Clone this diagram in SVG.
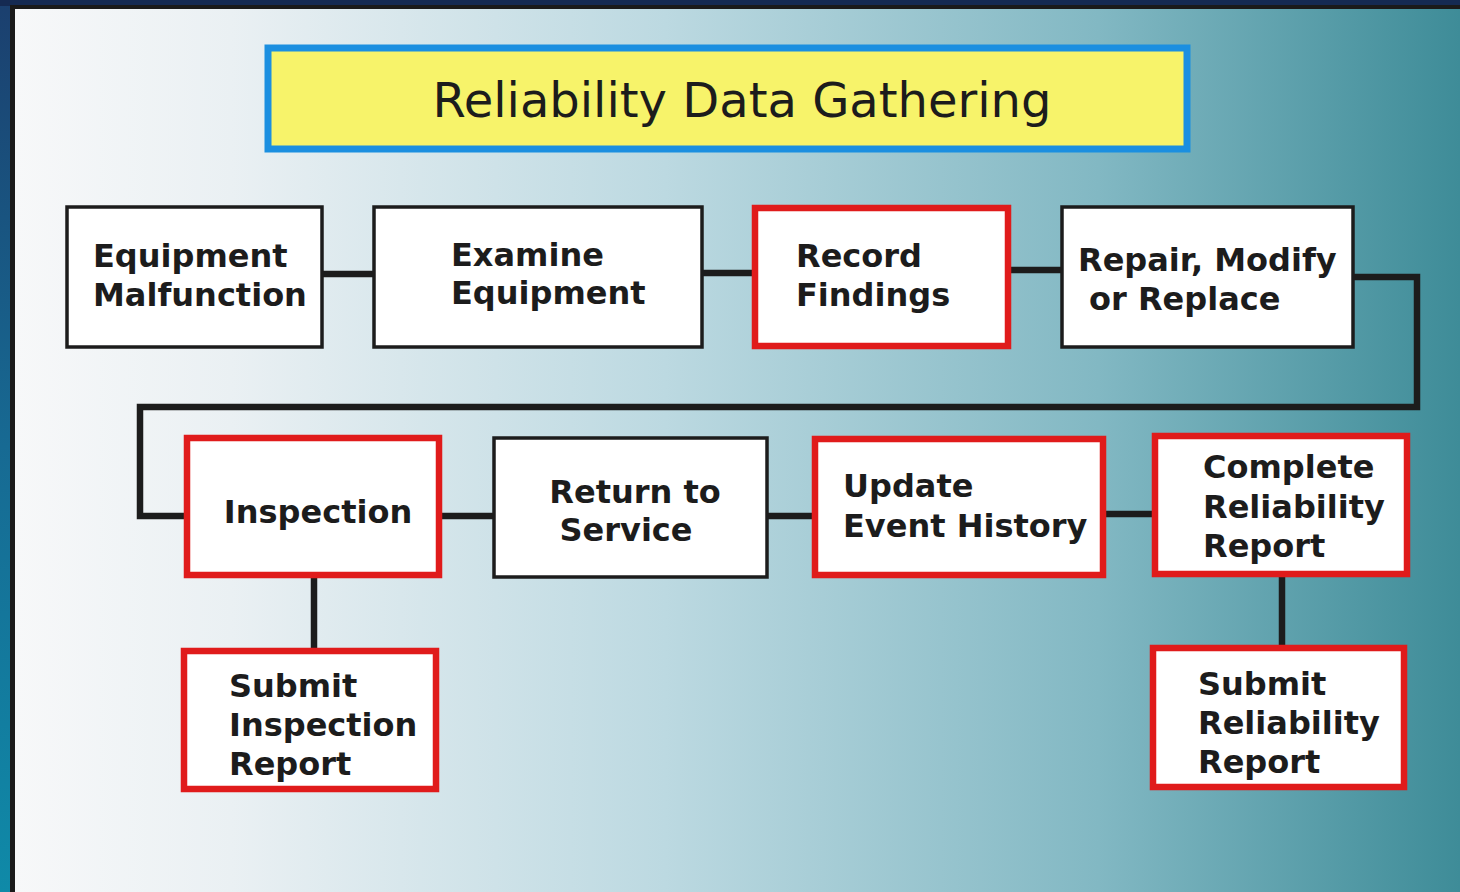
<svg xmlns="http://www.w3.org/2000/svg" width="1460" height="892" viewBox="0 0 1460 892">
<defs>
<linearGradient id="frame" x1="0" y1="0" x2="0" y2="1">
<stop offset="0" stop-color="#1b3f6e"/>
<stop offset="0.5" stop-color="#176a93"/>
<stop offset="1" stop-color="#0f8aa8"/>
</linearGradient>
<linearGradient id="panel" x1="0" y1="0" x2="1" y2="0">
<stop offset="0" stop-color="#f7f8f9"/>
<stop offset="0.15" stop-color="#eaf0f3"/>
<stop offset="0.45" stop-color="#bcd9e1"/>
<stop offset="0.75" stop-color="#82b8c3"/>
<stop offset="1" stop-color="#3e8c98"/>
</linearGradient>
<style>
.box{fill:#fff;stroke:#1c1c1c;stroke-width:3.5}
.rbox{fill:#fff;stroke:#e01b1b;stroke-width:6.5}
.lbl{font-family:"DejaVu Sans","Verdana",sans-serif;font-weight:bold;font-size:32px;fill:#1c1c1c}
.conn{fill:none;stroke:#1c1c1c;stroke-width:6.5}
</style>
</defs>
<rect x="0" y="0" width="1460" height="892" fill="url(#frame)"/>
<rect x="0" y="0" width="1460" height="6" fill="#152a52"/>
<rect x="10" y="5" width="1450" height="887" fill="#1a1a1a"/>
<rect x="15" y="9" width="1445" height="883" fill="url(#panel)"/>

<g id="title">
<rect x="268" y="48" width="919" height="101" fill="#f7f36a" stroke="#1b8fe0" stroke-width="7"/>
<text x="742" y="117" text-anchor="middle" font-family="DejaVu Sans, Verdana, sans-serif" font-size="48" fill="#1c1c1c">Reliability Data Gathering</text>
</g>

<g id="connectors">
<line class="conn" x1="322" y1="274" x2="373" y2="274"/>
<line class="conn" x1="702" y1="273" x2="752" y2="273"/>
<line class="conn" x1="1011" y1="270" x2="1061" y2="270"/>
<polyline class="conn" points="1353,277 1417,277 1417,407 140,407 140,516 184,516"/>
<line class="conn" x1="442" y1="516" x2="493" y2="516"/>
<line class="conn" x1="767" y1="516" x2="812" y2="516"/>
<line class="conn" x1="1106" y1="514" x2="1152" y2="514"/>
<line class="conn" x1="314" y1="578" x2="314" y2="648"/>
<line class="conn" x1="1282" y1="577" x2="1282" y2="646"/>
</g>

<g id="equipment-malfunction">
<rect class="box" x="67" y="207" width="255" height="140"/>
<text class="lbl" x="93" y="267">Equipment</text>
<text class="lbl" x="93" y="306">Malfunction</text>
</g>
<g id="examine-equipment">
<rect class="box" x="374" y="207" width="328" height="140"/>
<text class="lbl" x="451" y="266">Examine</text>
<text class="lbl" x="451" y="304">Equipment</text>
</g>
<g id="record-findings">
<rect class="rbox" x="755" y="208" width="253" height="138"/>
<text class="lbl" x="796" y="267">Record</text>
<text class="lbl" x="796" y="306">Findings</text>
</g>
<g id="repair-modify-replace">
<rect class="box" x="1062" y="207" width="291" height="140"/>
<text class="lbl" x="1078" y="271">Repair, Modify</text>
<text class="lbl" x="1089" y="310">or Replace</text>
</g>

<g id="inspection">
<rect class="rbox" x="187" y="438" width="252" height="137"/>
<text class="lbl" x="318" y="523" text-anchor="middle">Inspection</text>
</g>
<g id="return-to-service">
<rect class="box" x="494" y="438" width="273" height="139"/>
<text class="lbl" x="635" y="503" text-anchor="middle">Return to</text>
<text class="lbl" x="626" y="541" text-anchor="middle">Service</text>
</g>
<g id="update-event-history">
<rect class="rbox" x="815" y="439" width="288" height="136"/>
<text class="lbl" x="843" y="497">Update</text>
<text class="lbl" x="843" y="537">Event History</text>
</g>
<g id="complete-reliability-report">
<rect class="rbox" x="1155" y="436" width="252" height="138"/>
<text class="lbl" x="1203" y="478">Complete</text>
<text class="lbl" x="1203" y="518">Reliability</text>
<text class="lbl" x="1203" y="557">Report</text>
</g>
<g id="submit-inspection-report">
<rect class="rbox" x="184" y="651" width="252" height="138"/>
<text class="lbl" x="229" y="697">Submit</text>
<text class="lbl" x="229" y="736">Inspection</text>
<text class="lbl" x="229" y="775">Report</text>
</g>
<g id="submit-reliability-report">
<rect class="rbox" x="1153" y="648" width="251" height="139"/>
<text class="lbl" x="1198" y="695">Submit</text>
<text class="lbl" x="1198" y="734">Reliability</text>
<text class="lbl" x="1198" y="773">Report</text>
</g>
</svg>
